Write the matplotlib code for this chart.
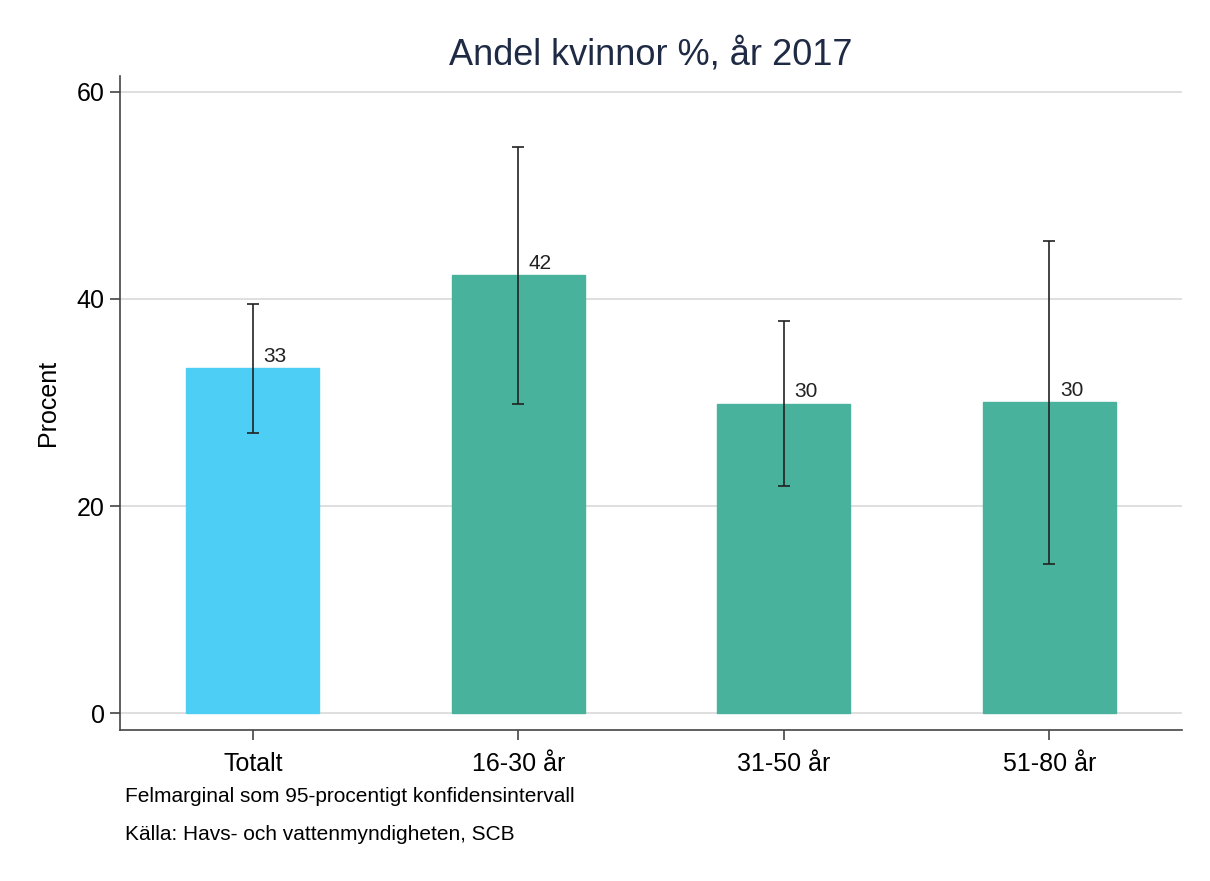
import numpy as np
import matplotlib.pyplot as plt

plt.rcParams['font.family'] = ['Liberation Sans', 'DejaVu Sans']

categories = ["Totalt", "16-30 år", "31-50 år", "51-80 år"]
values = [33.3, 42.3, 29.9, 30.0]
ci_low = [27.1, 29.9, 21.9, 14.4]
ci_high = [39.5, 54.7, 37.9, 45.6]
labels = ["33", "42", "30", "30"]
colors = ["#4dcff5", "#48b29c", "#48b29c", "#48b29c"]

fig = plt.figure(figsize=(12.1, 8.81), dpi=100)
ax = fig.add_axes([0.0992, 0.1714, 0.8777, 0.7423])

x = np.arange(len(categories))
vals = np.array(values)
yerr = np.array([vals - np.array(ci_low), np.array(ci_high) - vals])

ax.yaxis.grid(True, color="#d9d9d9", linewidth=1.2)
ax.set_axisbelow(True)
ax.bar(x, vals, width=0.5, color=colors, edgecolor=colors, linewidth=1, zorder=2)
ax.errorbar(x, vals, yerr=yerr, fmt="none", ecolor="#222222", elinewidth=1.2,
            capsize=4.5, capthick=1.2, zorder=3)
for xi, v, lab in zip(x, vals, labels):
    ax.text(xi + 0.04, v + 0.2, lab, ha="left", va="bottom", fontsize=15, color="#222222", zorder=4)

ax.set_xlim(-0.5, 3.5)
ax.set_ylim(-1.6, 61.5)
ax.set_yticks([0, 20, 40, 60])
ax.set_xticks(x)
ax.set_xticklabels(categories)
ax.tick_params(axis="both", labelsize=18, length=7, width=1.2, color="#444444")
ax.tick_params(axis="x", pad=9)
ax.tick_params(axis="y", pad=4)
ax.set_ylabel("Procent", fontsize=18, labelpad=12)
for s in ["top", "right"]:
    ax.spines[s].set_visible(False)
for s in ["left", "bottom"]:
    ax.spines[s].set_color("#444444")
    ax.spines[s].set_linewidth(1.2)

ax.set_title("Andel kvinnor %, år 2017", fontsize=26, color="#1f2a44", pad=8)

fig.text(125 / 1210, 1 - 797 / 881, "Felmarginal som 95-procentigt konfidensintervall",
         fontsize=15, va="center", ha="left")
fig.text(125 / 1210, 1 - 834 / 881, "Källa: Havs- och vattenmyndigheten, SCB",
         fontsize=15, va="center", ha="left")

fig.savefig("out.png", dpi=100)
